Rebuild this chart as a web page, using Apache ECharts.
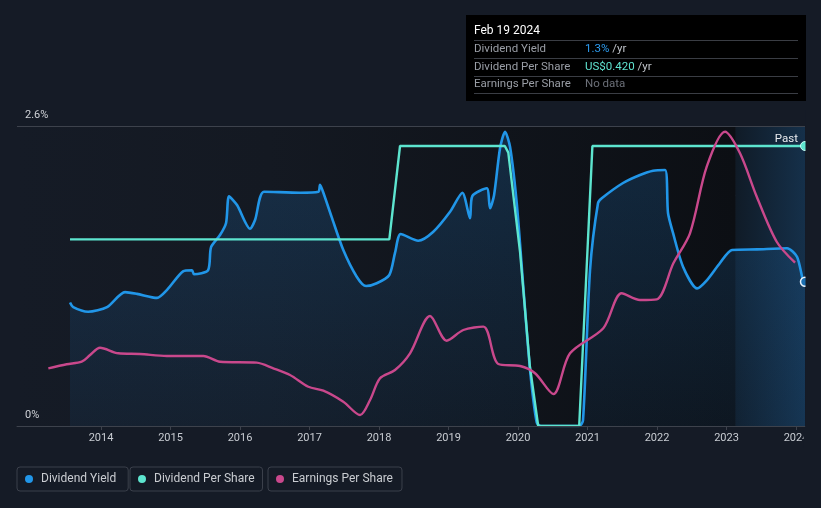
<!DOCTYPE html>
<html>
<head>
<meta charset="utf-8">
<script src="https://cdn.jsdelivr.net/npm/echarts@6/dist/echarts.min.js"></script>
<style>
html,body{margin:0;padding:0;background:#151b26;}
#chart{width:821px;height:508px;}
</style>
</head>
<body>
<div id="chart"></div>
<script>
// ---- data (x = decimal year) ----
const dividendYield = [
  [2013.554,1.07],[2013.60,1.03],[2013.813,0.99],[2014.086,1.03],[2014.345,1.16],[2014.518,1.145],
  [2014.806,1.11],[2014.95,1.18],[2015.18,1.34],[2015.309,1.35],[2015.338,1.315],[2015.54,1.35],
  [2015.583,1.55],[2015.712,1.655],[2015.799,1.76],[2015.842,1.99],[2015.957,1.915],[2016.144,1.71],
  [2016.216,1.785],[2016.345,2.03],[2016.863,2.022],[2017.127,2.03],[2017.151,2.09],[2017.194,2.03],
  [2017.319,1.81],[2017.486,1.525],[2017.679,1.294],[2017.813,1.213],[2017.967,1.237],[2018.148,1.309],
  [2018.23,1.50],[2018.312,1.664],[2018.565,1.606],[2018.781,1.684],[2019.022,1.857],[2019.199,2.022],
  [2019.309,1.80],[2019.342,1.993],[2019.55,2.06],[2019.597,1.887],[2019.655,2.0],[2019.741,2.407],
  [2019.813,2.55],[2019.885,2.42],[2019.981,1.933],[2020.076,1.207],[2020.173,0.485],[2020.269,0.03],
  [2020.33,0],[2020.88,0],[2020.935,0.05],[2021.036,1.352],[2021.151,1.933],[2021.209,1.976],
  [2021.511,2.106],[2021.755,2.175],[2021.942,2.213],[2022.115,2.219],[2022.158,1.846],[2022.23,1.673],
  [2022.374,1.381],[2022.576,1.193],[2022.719,1.265],[2022.906,1.413],[2023.079,1.525],[2023.439,1.531],
  [2023.871,1.54],[2024.014,1.467],[2024.101,1.26],[2024.129,1.25]
];
const dividendPerShare = [
  [2013.554,0.28],[2018.148,0.28],[2018.302,0.42],[2019.81,0.42],[2019.86,0.41],[2020.03,0.26],
  [2020.17,0.09],[2020.29,0],[2020.88,0],[2021.07,0.42],[2024.129,0.42]
];
const earningsPerShare = [
  [2013.242,0.50],[2013.506,0.535],[2013.722,0.557],[2013.842,0.615],[2013.986,0.678],[2014.249,0.63],
  [2014.561,0.624],[2014.945,0.607],[2015.472,0.607],[2015.712,0.557],[2016.24,0.549],[2016.479,0.50],
  [2016.719,0.442],[2016.983,0.34],[2017.199,0.306],[2017.486,0.21],[2017.727,0.095],[2017.871,0.225],
  [2018.014,0.413],[2018.23,0.485],[2018.446,0.63],[2018.734,0.953],[2018.974,0.739],[2019.213,0.832],
  [2019.501,0.861],[2019.717,0.537],[2020.029,0.52],[2020.245,0.457],[2020.508,0.277],[2020.748,0.63],
  [2021.227,0.847],[2021.492,1.15],[2021.755,1.092],[2021.996,1.098],[2022.235,1.41],[2022.474,1.67],
  [2022.715,2.247],[2022.978,2.55],[2023.194,2.363],[2023.435,1.987],[2023.722,1.597],[2023.986,1.415]
];
const xTickYears = [2014,2015,2016,2017,2018,2019,2020,2021,2022,2023,2024];
const yLabelValues = [0, 2.6];
const xRange = [2012.791, 2024.129];
const pastStart = 2023.131;
const yieldMax = 2.6, dpsMax = 0.45, epsMax = 2.6;
const tooltipInfo = {date:'Feb 19 2024', yieldText:'1.3%', dpsText:'US$0.420', epsText:'No data'};

const FONT = 'Roboto, "Noto Sans", sans-serif';
const C_YIELD = '#2196e8', C_DPS = '#5de5cf', C_EPS = '#c9488c';
const BG = '#151b26';

const chart = echarts.init(document.getElementById('chart'));
const lastIdx = arr => arr.length - 1;

const legendCommon = {
  orient:'horizontal', icon:'circle', itemWidth:14, itemHeight:8,
  borderColor:'#3b404b', borderWidth:1, borderRadius:3,
  textStyle:{color:'#c9ccd1', fontSize:12, fontFamily:FONT}, selectedMode:false, top:467
};
const legendItem = (name, color) => ({name, itemStyle:{color, borderWidth:0}});

const tipLabel = (text, y) => ({type:'text', x:474, y:y, style:{text, fill:'#9a9ea6', font:'11.5px '+FONT, verticalAlign:'middle'}, z:101});
const tipLine = y => ({type:'line', shape:{x1:474,y1:y,x2:798,y2:y}, style:{stroke:'#3a3d44', lineWidth:1}, z:101});

const option = {
  backgroundColor: BG,
  animation:false,
  textStyle:{fontFamily:FONT},
  grid:{left:17, right:16, top:126, bottom:82, containLabel:false},
  xAxis:{
    type:'value', min:xRange[0], max:xRange[1],
    axisLine:{show:true, lineStyle:{color:'#3d424c', width:1}},
    axisTick:{show:true, customValues:xTickYears, length:4, lineStyle:{color:'#3d424c'}},
    axisLabel:{show:true, customValues:xTickYears, color:'#c8ccd2', fontSize:11, margin:7, formatter:v=>String(Math.round(v))},
    splitLine:{show:false}
  },
  yAxis:[
    {type:'value', min:0, max:yieldMax, interval:1, position:'left',
     axisLine:{show:false}, axisTick:{show:false}, axisLabel:{show:false},
     splitLine:{show:true, lineStyle:{color:'#252b35', width:1}}},
    {type:'value', min:0, max:dpsMax, show:false},
    {type:'value', min:0, max:epsMax, show:false}
  ],
  legend:[
    Object.assign({}, legendCommon, {left:17, padding:[6,12,6,8], data:[legendItem('Dividend Yield', C_YIELD)]}),
    Object.assign({}, legendCommon, {left:130, padding:[6,8,6,8], data:[legendItem('Dividend Per Share', C_DPS)]}),
    Object.assign({}, legendCommon, {left:268, padding:[6,9,6,8], data:[legendItem('Earnings Per Share', C_EPS)]})
  ],
  series:[
    {name:'bg', type:'line', data:[], z:0, silent:true,
     markLine:{silent:true, symbol:'none',
       lineStyle:{color:'#3d424c', type:'solid', width:1},
       label:{show:true, position:'insideStartTop', distance:[8,5], color:'#d0d3d8', fontSize:11, fontFamily:FONT,
         formatter:p => (Math.round(p.value*10)/10) + '%'},
       data: yLabelValues.map(v => ({yAxis:v}))},
     markArea:{silent:true, data:[
       [{xAxis:xRange[0], yAxis:0, itemStyle:{color:{type:'linear',x:0,y:0,x2:1,y2:0,colorStops:[
          {offset:0,color:'#151b26'},{offset:0.35,color:'#141922'},{offset:1,color:'#0c0f14'}]}}},
        {xAxis:pastStart, yAxis:yieldMax}],
       [{xAxis:pastStart, yAxis:0, itemStyle:{color:{type:'linear',x:0,y:0,x2:1,y2:0,colorStops:[
          {offset:0,color:'#101b27'},{offset:1,color:'#15304a'}]}},
          label:{show:true, formatter:'Past', position:'insideTopRight', distance:7, color:'#e8eaee', fontSize:11.5, fontFamily:FONT}},
        {xAxis:xRange[1], yAxis:yieldMax}]
     ]}},
    {name:'Dividend Yield', type:'line', yAxisIndex:0, data:dividendYield, z:3,
     smooth:0.25, color:C_YIELD,
     showSymbol:true, showAllSymbol:true,
     symbol:(v,p)=> p.dataIndex===lastIdx(dividendYield) ? 'circle' : 'none',
     symbolSize:9,
     itemStyle:{color:'#1c6fb0', borderColor:'#e8f2fb', borderWidth:1.5},
     lineStyle:{color:C_YIELD, width:2.6},
     areaStyle:{color:{type:'linear',x:0,y:0,x2:0,y2:1,colorStops:[
       {offset:0,color:'rgba(33,125,205,0.32)'},{offset:1,color:'rgba(33,125,205,0.10)'}]}}},
    {name:'Dividend Per Share', type:'line', yAxisIndex:1, data:dividendPerShare, z:4,
     smooth:false, color:C_DPS,
     showSymbol:true, showAllSymbol:true,
     symbol:(v,p)=> p.dataIndex===lastIdx(dividendPerShare) ? 'circle' : 'none',
     symbolSize:9,
     itemStyle:{color:C_DPS, borderColor:'#c9fff5', borderWidth:1},
     lineStyle:{color:C_DPS, width:2.4}},
    {name:'Earnings Per Share', type:'line', yAxisIndex:2, data:earningsPerShare, z:5,
     smooth:0.3, color:C_EPS, showSymbol:false,
     lineStyle:{color:C_EPS, width:2.4}}
  ],
  graphic:[
    {type:'rect', shape:{x:805.5, y:110, width:20, height:318}, style:{fill:BG}, z:100, silent:true},
    {type:'rect', shape:{x:803.5, y:430, width:20, height:18}, style:{fill:BG}, z:100, silent:true},
    {type:'rect', shape:{x:466, y:15, width:340, height:86}, style:{fill:'#000000'}, z:100},
    {type:'text', x:474, y:31, style:{text:tooltipInfo.date, fill:'#ffffff', font:'12px '+FONT, verticalAlign:'middle'}, z:101},
    tipLine(40.5), tipLine(58.5), tipLine(76.5), tipLine(93.5),
    tipLabel('Dividend Yield', 49), tipLabel('Dividend Per Share', 67), tipLabel('Earnings Per Share', 84.5),
    {type:'text', x:585, y:49, z:101, style:{text:'{a|'+tooltipInfo.yieldText+'}{b| /yr}', verticalAlign:'middle',
      rich:{a:{fill:'#2d9cf0', font:'11.5px '+FONT}, b:{fill:'#c0c4ca', font:'11.5px '+FONT}}}},
    {type:'text', x:585, y:67, z:101, style:{text:'{a|'+tooltipInfo.dpsText+'}{b| /yr}', verticalAlign:'middle',
      rich:{a:{fill:'#5fe3d0', font:'11.5px '+FONT}, b:{fill:'#c0c4ca', font:'11.5px '+FONT}}}},
    {type:'text', x:585, y:84.5, z:101, style:{text:tooltipInfo.epsText, fill:'#6c7079', font:'11.5px '+FONT, verticalAlign:'middle'}}
  ]
};
chart.setOption(option);
</script>
</body>
</html>
